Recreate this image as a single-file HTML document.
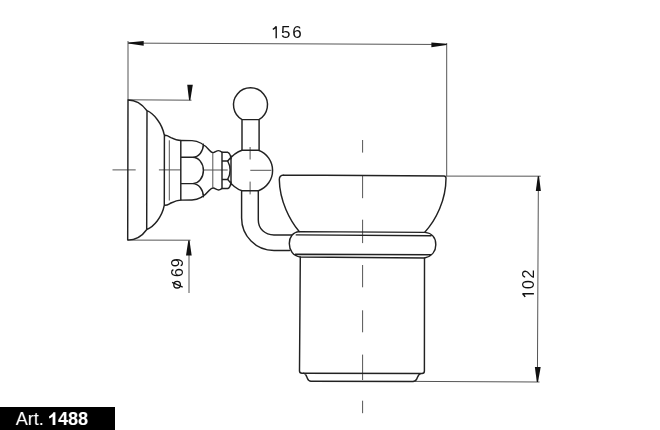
<!DOCTYPE html>
<html><head><meta charset="utf-8"><style>
html,body{margin:0;padding:0;background:#fff;width:660px;height:430px;overflow:hidden}
svg{position:absolute;left:0;top:0;display:block;filter:grayscale(1)}
text{font-family:"Liberation Sans",sans-serif}
.k{fill:none;stroke:#222;stroke-width:1.45;stroke-linecap:round;stroke-linejoin:round}
.t{fill:none;stroke:#555;stroke-width:1;stroke-linecap:butt}
.a{fill:#111;stroke:none}
</style></head><body>
<svg width="660" height="430" viewBox="0 0 660 430" xmlns="http://www.w3.org/2000/svg">
<!-- dimension 156 -->
<path class="t" d="M128,41 L128,100 M446.7,43 L446.7,176 M128,43.1 L446.7,44.5"/>
<path class="a" d="M128.3,42.4 L128.3,43.6 L143.7,45.7 L143.7,40.9 Z"/>
<path class="a" d="M446.6,43.8 L446.6,45 L431.4,47.3 L431.4,42.4 Z"/>
<path d="M276.2,26.2 L276.2,38.3 M276.2,26.4 Q275,28.4 272.8,29.4" fill="none" stroke="#111" stroke-width="1.4"/>
<text y="38.3" font-size="17" fill="#111"><tspan x="281">5</tspan><tspan x="292.2">6</tspan></text>

<!-- dimension o69 -->
<path class="t" d="M128,99.8 L191.5,100.2 M128,240.1 L190.5,240.2 M189,240.5 L189,293"/>
<path class="a" d="M189.1,100.2 L190.3,100.2 L192.8,84.7 L187.2,84.7 Z"/>
<path class="a" d="M188.3,240.6 L189.5,240.6 L191.7,255.4 L186,255.4 Z"/>
<g transform="translate(182.7,289) rotate(-90)"><text y="0" font-size="16" fill="#111"><tspan x="12">6</tspan><tspan x="21.7">9</tspan></text></g>
<circle cx="177.1" cy="284.7" r="3.3" fill="none" stroke="#111" stroke-width="1.3"/>
<path d="M172.1,282.3 L182.7,287.2" stroke="#111" stroke-width="1.3"/>

<!-- dimension 102 -->
<path class="t" d="M446,176.1 L540.7,176.2 M415,381.4 L539.5,382 M538.4,176.2 L537.4,382"/>
<path class="a" d="M537.8,176.3 L539,176.3 L540.9,191 L535.8,191 Z"/>
<path class="a" d="M536.8,382 L538,382 L540.7,367.1 L534.9,367.1 Z"/>
<g transform="translate(533.9,297) rotate(-90)"><path d="M3.3,0 L3.3,-11.5 M3.1,-11.3 Q1.8,-9.6 0,-8.8" fill="none" stroke="#111" stroke-width="1.4"/><text y="0" font-size="16" fill="#111"><tspan x="8">0</tspan><tspan x="18.6">2</tspan></text></g>

<!-- center lines -->
<path class="t" d="M112.5,169.9 L135.7,169.9 M158.9,169.9 L180.7,169.9 M203.2,170 L227.7,170 M250.3,170.3 L271.4,170.3
M250.1,147 L250.1,159.5 M250.1,181.6 L250.1,194.4
M362.6,140 L362.6,152.6 M362.6,175 L362.6,198.2 M362.6,219.7 L362.6,243.1 M362.6,265 L362.6,287.3 M362.6,310.3 L362.6,332.3 M362.6,354.6 L362.6,380 M362.6,400.7 L362.6,413.2"/>

<!-- wall plate -->
<path class="k" d="M128,100 L127.7,240
M128.1,100 C135,100 142,104 147,110.7 C153.5,113.5 162,123 164.4,135.4
M127.7,240.1 C135,240.1 142,236.3 146.8,229.5 C153.5,226.8 162,217.5 164.3,205.2
M147,110.7 L146.7,229.5
M164.4,135.4 L164.3,205.2
M164.4,135.4 C167,135 168,136 171,137.6 C175,139.6 178,140.5 180.8,140.5
M164.3,205.2 C167,205.6 168,204.6 171,203 C175,201 178,200.1 180.8,200.1"/>
<path class="t" d="M169.3,140.3 L169.3,200.5"/>

<!-- scallop section -->
<path class="k" d="M180.8,140.5 L180.8,200.1
M180.8,140.5 L192,140.6 C199,140.8 205,145 209.4,150.3 Q211.5,152.8 213.3,152.6 C215,152.4 216.5,150.6 218.5,150.6 C220,150.6 221,151.4 222,152.3
M180.8,200.1 L192,200 C199,199.8 205,195.6 209.4,190.3 Q211.5,187.8 213.3,188 C215,188.2 216.5,190 218.5,190 C220,190 221,189.2 222,188.5
M180.8,157.3 L192.7,157.3 M180.8,183.6 L192.7,183.6
M192.7,157.3 A10.7,13.2 0 0 0 203.4,144.1
M192.7,157.3 A10.7,13.15 0 0 1 192.7,183.6
M192.7,183.6 A10.7,13.2 0 0 1 203.4,196.8"/>

<!-- neck -->
<path class="t" d="M212.8,153 L212.8,188"/>

<!-- hex nut -->
<path class="k" d="M222,152.3 L222,188.5
M222,152.3 L227.8,152.3 Q230.3,153.3 231,158.5 M222,188.5 L227.8,188.5 Q230.3,187.5 231,182.3
M222,161 L227.7,161 M222,179.4 L227.7,179.4
M227.7,161 Q232.6,170.2 227.7,179.4"/>

<!-- joint ball -->
<path class="k" d="M231,156 L231,184.8
M227.7,161 C231,157 236,152 242,150.2 L258.5,150.2 A21.6,21.6 0 0 1 258.5,190.7 L242,190.7 C236,189 231,184 227.7,179.4"/>

<!-- top knob -->
<path class="k" d="M242.1,119.6 A17,17 0 1 1 258.9,119.6 Z M242,119.6 L242,150.2 M259.1,119.6 L259.1,150.2"/>

<!-- pipe -->
<path class="k" d="M241.6,190.7 L241.6,218 C241.6,236 256,250.5 274,250.5 L289.5,250.5
M258.3,190.7 L258.3,220 C258.3,229 265,234.9 274,234.9 L291.6,234.9"/>

<!-- cup bowl -->
<path class="k" d="M283.8,175 L444,176 Q446,176.1 446,178.2
M283.8,175 C281,175.1 279.3,176.6 279.3,179.5 C279.6,201 290,220.5 299.2,231.5
M446,178.2 C446,200 436,220 424.8,232.2"/>

<!-- ring -->
<path class="k" d="M299,231.6 L425,232.4 C432,233 435.8,238 435.8,244.7 C435.8,251 432,256.5 424.5,258 L300.3,257 C293,256 289.3,250 289.3,243.5 C289.3,237 293,232 299,231.6 Z
M296.3,234.9 L431,235.7 M295.5,254.2 L431,254.8"/>

<!-- cup body -->
<path class="k" d="M300.3,257 L299.5,371 Q299.5,373.2 302,373.2 L422,373.5 Q424.4,373.5 424.4,371 L424.5,258
M303.5,373.3 C306,373.5 306.5,376 307.5,378.5 C308.3,380.5 309,381.2 311,381.2 L413,381.4 C415.5,381.4 416.2,380.5 417,378.5 C418,376 418.5,373.8 421,373.6"/>

<!-- label -->
<rect x="0" y="407" width="115" height="23" fill="#000"/>
<text x="15.8" y="425" font-size="18" fill="#fff">Art.</text>
<path d="M53.4,412.3 L55.4,412.3 L55.4,424.9 L52.6,424.9 L52.6,416.4 C51.6,417.4 50.4,418.1 49.1,418.6 L49.1,416.2 C50.9,415.5 52.6,414.1 53.4,412.3 Z" fill="#fff"/>
<text y="425" font-size="18" font-weight="bold" fill="#fff" letter-spacing="0.1"><tspan x="57.9">488</tspan></text>
</svg>
</body></html>
